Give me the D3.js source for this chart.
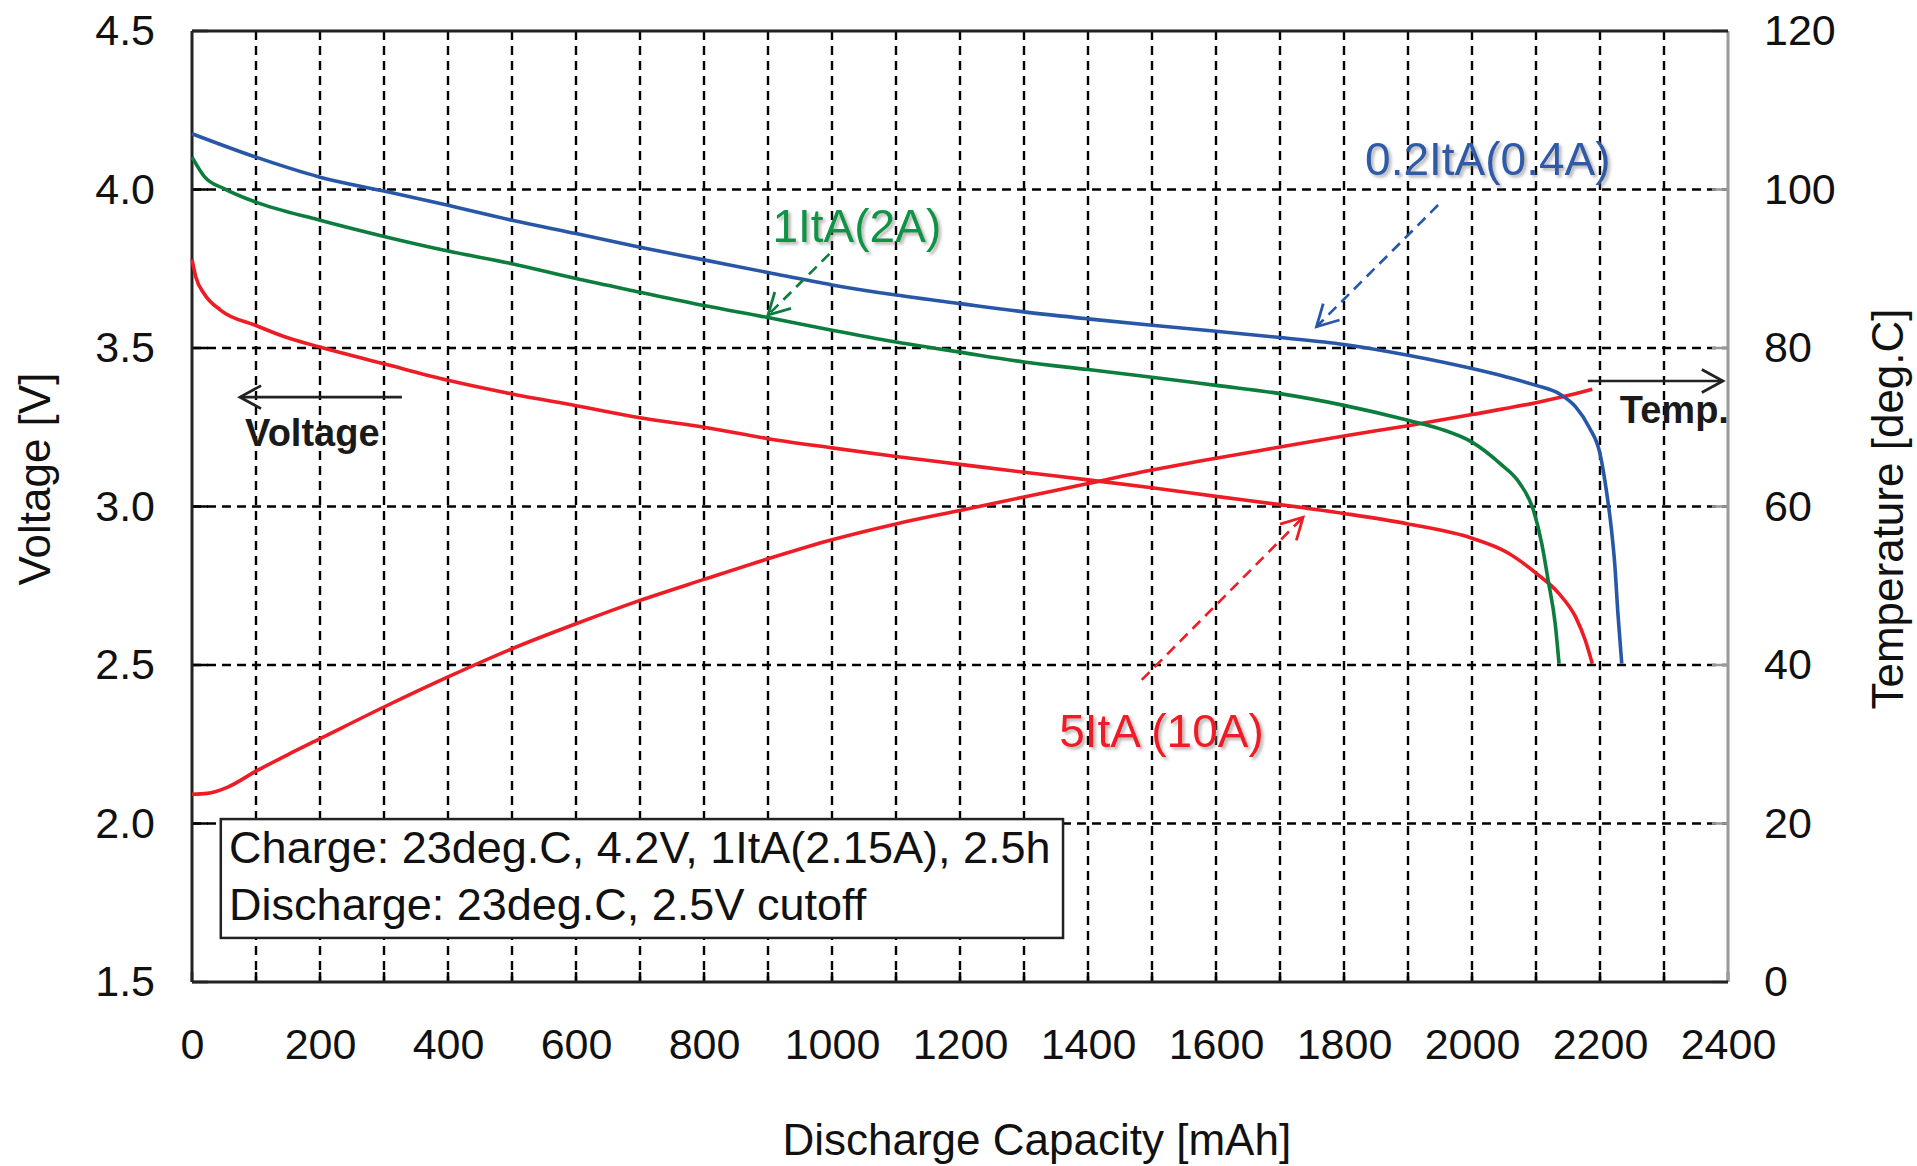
<!DOCTYPE html>
<html>
<head>
<meta charset="utf-8">
<script src="https://cdn.jsdelivr.net/npm/d3@7"></script>
<style>
  html, body { margin: 0; padding: 0; background: #fff; }
  svg { display: block; font-family: "Liberation Sans", Arial, sans-serif; }
</style>
</head>
<body>
<svg id="chart" width="1917" height="1166"></svg>
<script>
// ---------------- DATA ----------------
const xTicks = [0,200,400,600,800,1000,1200,1400,1600,1800,2000,2200,2400];
const vTicks = [1.5,2.0,2.5,3.0,3.5,4.0,4.5];
const tTicks = [0,20,40,60,80,100,120];

// 0.2ItA (0.4A) discharge voltage
const blueCap = [0,100,200,300,400,500,600,700,800,900,1000,1100,1200,1300,1400,1500,1600,1700,1800,1900,2000,2055,2100,2136,2162,2183,2200,2210,2218,2223,2228,2234];
const blueV   = [4.176,4.102,4.039,3.995,3.95,3.903,3.861,3.818,3.778,3.738,3.699,3.667,3.64,3.614,3.592,3.572,3.553,3.533,3.511,3.477,3.435,3.408,3.382,3.356,3.314,3.25,3.167,3.05,2.925,2.82,2.662,2.504];

// 1ItA (2A) discharge voltage
const greenCap = [0,20,50,100,200,300,400,500,600,700,800,900,1000,1100,1200,1300,1400,1500,1600,1700,1800,1900,1950,2000,2044,2075,2096,2109,2119,2130,2136];
const greenV   = [4.102,4.039,4.003,3.96,3.903,3.852,3.806,3.766,3.719,3.676,3.634,3.596,3.556,3.519,3.487,3.456,3.432,3.408,3.382,3.356,3.319,3.272,3.245,3.203,3.135,3.072,2.988,2.883,2.767,2.63,2.504];

// 5ItA (10A) discharge voltage
const redCap = [0,6,19,45,100,147,200,300,400,500,600,700,800,900,1000,1100,1200,1300,1400,1500,1600,1700,1800,1900,2000,2055,2100,2136,2162,2177,2188];
const redV   = [3.78,3.724,3.671,3.619,3.571,3.534,3.503,3.45,3.398,3.355,3.318,3.28,3.25,3.214,3.185,3.158,3.133,3.108,3.084,3.059,3.032,3.006,2.978,2.945,2.9,2.855,2.79,2.725,2.651,2.578,2.504];

// 5ItA (10A) cell temperature
const tempCap = [0,24,56,100,150,200,300,400,500,600,700,800,900,1000,1100,1200,1300,1400,1500,1600,1700,1800,1900,2000,2100,2145,2188];
const tempT   = [23.7,23.8,24.6,26.6,28.7,30.7,34.7,38.5,42.05,45.2,48.15,50.8,53.4,55.8,57.8,59.5,61.2,62.9,64.6,66.1,67.5,68.9,70.2,71.6,73.1,73.9,74.8];

const boxLines = ["Charge: 23deg.C, 4.2V, 1ItA(2.15A), 2.5h", "Discharge: 23deg.C, 2.5V cutoff"];

// ---------------- DRAW ----------------
const svg = d3.select("#chart");
const L = 192, R = 1728, T = 31, B = 982;
const x  = d3.scaleLinear().domain([0,2400]).range([L,R]);
const yV = d3.scaleLinear().domain([1.5,4.5]).range([B,T]);
const yT = d3.scaleLinear().domain([0,120]).range([B,T]);

const BLUE = "#2857a8", GREEN = "#0d7d3e", RED = "#ee1c25";
const BLUE_T = "#2e5aa8", GREEN_T = "#0a9447", RED_T = "#ee1c25";

const defs = svg.append("defs");
const f = defs.append("filter").attr("id","sh").attr("x","-10%").attr("y","-20%").attr("width","130%").attr("height","150%");
f.append("feDropShadow").attr("dx",2.5).attr("dy",2.5).attr("stdDeviation",1.6)
  .attr("flood-color","#777").attr("flood-opacity",0.55);

// grid
const grid = svg.append("g");
grid.selectAll("line.v").data(d3.range(100,2400,100)).join("line")
  .attr("x1", d=>x(d)).attr("x2", d=>x(d)).attr("y1",T).attr("y2",B)
  .attr("stroke","#000").attr("stroke-width",2.4).attr("stroke-dasharray","9,6");
grid.selectAll("line.h").data(vTicks.filter(v=>v>1.5 && v<4.5)).join("line")
  .attr("x1",L).attr("x2",R).attr("y1",d=>yV(d)).attr("y2",d=>yV(d))
  .attr("stroke","#000").attr("stroke-width",2.4).attr("stroke-dasharray","9,6");

// inner ticks
svg.append("g").selectAll("line").data(vTicks).join("line")
  .attr("x1",L).attr("x2",L+16).attr("y1",d=>yV(d)).attr("y2",d=>yV(d))
  .attr("stroke","#000").attr("stroke-width",2.5);
svg.append("g").selectAll("line").data(tTicks).join("line")
  .attr("x1",R-16).attr("x2",R).attr("y1",d=>yT(d)).attr("y2",d=>yT(d))
  .attr("stroke","#999").attr("stroke-width",2.5);
svg.append("g").selectAll("line").data(d3.range(0,2500,100)).join("line")
  .attr("x1",d=>x(d)).attr("x2",d=>x(d)).attr("y1",B-10).attr("y2",B)
  .attr("stroke","#000").attr("stroke-width",2.5);

// frame
svg.append("line").attr("x1",R).attr("x2",R).attr("y1",T).attr("y2",B).attr("stroke","#9a9a9a").attr("stroke-width",3);
svg.append("line").attr("x1",L).attr("x2",R).attr("y1",T).attr("y2",T).attr("stroke","#222").attr("stroke-width",3);
svg.append("line").attr("x1",L).attr("x2",R).attr("y1",B).attr("y2",B).attr("stroke","#222").attr("stroke-width",3);
svg.append("line").attr("x1",L).attr("x2",L).attr("y1",T).attr("y2",B).attr("stroke","#222").attr("stroke-width",3);

// axes labels
const axL = svg.append("g").attr("transform",`translate(${L-37},0)`)
  .call(d3.axisLeft(yV).tickValues(vTicks).tickFormat(d3.format(".1f")).tickSize(0).tickPadding(0));
const axR = svg.append("g").attr("transform",`translate(${R+36},0)`)
  .call(d3.axisRight(yT).tickValues(tTicks).tickFormat(d3.format("d")).tickSize(0).tickPadding(0));
const axB = svg.append("g").attr("transform",`translate(0,${B+52})`)
  .call(d3.axisBottom(x).tickValues(xTicks).tickFormat(d3.format("d")).tickSize(0).tickPadding(0));
[axL,axR,axB].forEach(a=>{
  a.select(".domain").remove();
  a.selectAll("text").attr("font-size",43).attr("fill","#111")
   .attr("font-family",'"Liberation Sans", Arial, sans-serif');
});
axB.selectAll("text").attr("dy","0.71em").attr("y",-6);

// axis titles
svg.append("text").attr("x",x(1320)).attr("y",1155).attr("text-anchor","middle")
  .attr("font-size",44).attr("fill","#111").text("Discharge Capacity [mAh]");
svg.append("text").attr("transform","translate(50,479) rotate(-90)").attr("text-anchor","middle")
  .attr("font-size",44).attr("fill","#111").text("Voltage [V]");
svg.append("text").attr("transform","translate(1903,509) rotate(-90)").attr("text-anchor","middle")
  .attr("font-size",44).attr("fill","#111").text("Temperature [deg.C]");

// curves
const lineV = d3.line().x(d=>x(d[0])).y(d=>yV(d[1])).curve(d3.curveMonotoneX);
const lineT = d3.line().x(d=>x(d[0])).y(d=>yT(d[1])).curve(d3.curveMonotoneX);
const series = [
  {cap: tempCap,  val: tempT,  color: RED,   gen: lineT},
  {cap: redCap,   val: redV,   color: RED,   gen: lineV},
  {cap: greenCap, val: greenV, color: GREEN, gen: lineV},
  {cap: blueCap,  val: blueV,  color: BLUE,  gen: lineV},
];
svg.append("g").selectAll("path").data(series).join("path")
  .attr("d", s => s.gen(s.cap.map((c,i)=>[c, s.val[i]])))
  .attr("fill","none").attr("stroke", s=>s.color).attr("stroke-width",3.6)
  .attr("stroke-linejoin","round");

// legend box
const bx0 = x(45), bx1 = x(1361), by0 = yV(2.014), by1 = yV(1.639);
svg.append("rect").attr("x",bx0).attr("y",by0).attr("width",bx1-bx0).attr("height",by1-by0)
  .attr("fill","#fff").attr("stroke","#222").attr("stroke-width",2.5);
svg.append("g").selectAll("text").data(boxLines).join("text")
  .attr("x", x(58)).attr("y",(d,i)=> yV([1.875,1.696][i]))
  .attr("font-size",45).attr("fill","#111").text(d=>d);

// arrows
function arrow(g, x1,y1,x2,y2,color,dashed){
  g.append("line").attr("x1",x1).attr("y1",y1).attr("x2",x2).attr("y2",y2)
    .attr("stroke",color).attr("stroke-width",2.6)
    .attr("stroke-dasharray", dashed ? "11,7" : null);
  const a = Math.atan2(y2-y1, x2-x1), len = 24, sp = 0.5;
  const p1 = [x2 - len*Math.cos(a-sp), y2 - len*Math.sin(a-sp)];
  const p2 = [x2 - len*Math.cos(a+sp), y2 - len*Math.sin(a+sp)];
  g.append("path").attr("d",`M${p1[0]},${p1[1]}L${x2},${y2}L${p2[0]},${p2[1]}`)
    .attr("fill","none").attr("stroke",color).attr("stroke-width",2.8);
}
const ann = svg.append("g");
arrow(ann, x(1947), yV(3.951), x(1757), yV(3.567), BLUE, true);
arrow(ann, x(996),  yV(3.797), x(900),  yV(3.604), GREEN, true);
arrow(ann, x(1484), yV(2.453), x(1736), yV(2.966), RED, true);
arrow(ann, x(328),  yV(3.345), x(75),   yV(3.345), "#222", false);
arrow(ann, x(2181), yV(3.396), x(2392), yV(3.396), "#222", false);

// annotation labels
ann.append("text").attr("x",x(1833)).attr("y",yV(4.046)).attr("font-size",46)
  .attr("fill",BLUE_T).attr("filter","url(#sh)").text("0.2ItA(0.4A)");
ann.append("text").attr("x",x(907)).attr("y",yV(3.834)).attr("font-size",46)
  .attr("fill",GREEN_T).attr("filter","url(#sh)").text("1ItA(2A)");
ann.append("text").attr("x",x(1355)).attr("y",yV(2.241)).attr("font-size",46)
  .attr("fill",RED_T).attr("filter","url(#sh)").text("5ItA (10A)");
ann.append("text").attr("x",x(83)).attr("y",yV(3.191)).attr("font-size",38)
  .attr("font-weight","bold").attr("fill","#1a1a1a").text("Voltage");
ann.append("text").attr("x",x(2231)).attr("y",yV(3.263)).attr("font-size",38)
  .attr("font-weight","bold").attr("fill","#1a1a1a").text("Temp.");
</script>
</body>
</html>
